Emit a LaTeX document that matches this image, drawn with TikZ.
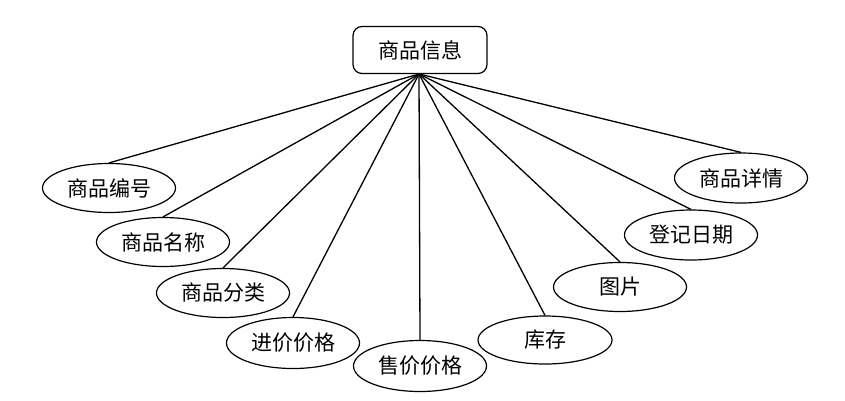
\documentclass[tikz,border=0pt]{standalone}
\usepackage{fontspec}
\newfontfamily\cjk{Noto Sans CJK SC}
\usetikzlibrary{shapes.geometric}
\begin{document}
\begin{tikzpicture}[x=1pt,y=-1pt,
  lbl/.style={font=\cjk\fontsize{21}{25}\selectfont},
  rootbox/.style={lbl,draw,line width=1.2pt,rounded corners=9pt,minimum width=134pt,minimum height=47pt,inner sep=0pt},
  attr/.style={lbl,draw,line width=1.2pt,ellipse,minimum width=133pt,minimum height=49pt,inner sep=0pt},
  link/.style={line width=1.3pt}]
\useasboundingbox (0,0) rectangle (845,400);
\node[rootbox] (root) at (420,50) {商品信息};
\coordinate (hub) at (419,74);
\node[attr] (a1) at (109,188) {商品编号};
\node[attr] (a2) at (163,242) {商品名称};
\node[attr] (a3) at (223,293) {商品分类};
\node[attr,minimum height=51pt] (a4) at (293,343) {进价价格};
\node[attr,minimum height=51pt] (a5) at (420,366) {售价价格};
\node[attr,minimum width=134pt,minimum height=48pt] (a6) at (545,340) {库存};
\node[attr] (a7) at (620,287) {图片};
\node[attr,minimum height=50pt] (a8) at (691,235) {登记日期};
\node[attr,minimum height=50pt] (a9) at (741,178) {商品详情};
\foreach \n in {a1,a2,a3,a4,a5,a6,a7,a8,a9}
  \draw[link] (hub) -- (\n.north);
\end{tikzpicture}
\end{document}
